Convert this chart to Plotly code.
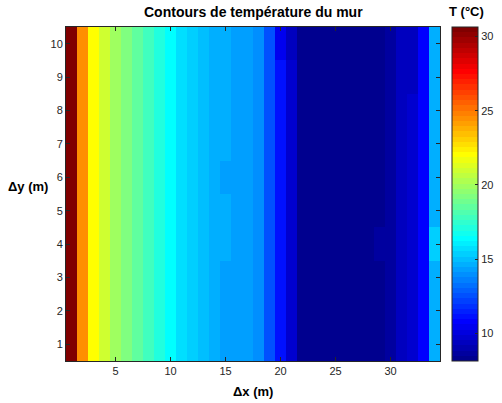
import plotly.graph_objects as go

# ---- data ----
x_pos = list(range(1, 35))          # Δx (m)
y_pos = list(range(1, 11))          # Δy (m)
base_profile = [30.6, 24.6, 22.05, 20.95, 19.95, 19.25, 18.55, 17.85, 17.1, 16.4,
                15.6, 15.3, 15.0, 14.75, 14.6, 14.25, 14.2, 13.9, 12.5, 11.1,
                9.7, 8.3, 8.15, 8.13, 8.13, 8.14, 8.15, 8.45, 8.45, 8.8,
                9.2, 9.65, 10.85, 14.75]
# (row y, column x, value) cells that differ from the column profile
deviations = [
    (1, 15, 14.2), (2, 15, 14.2), (3, 15, 14.2), (6, 15, 14.2),
    (10, 20, 10.25), (10, 21, 9.25), (4, 21, 9.85),
    (9, 22, 8.15), (10, 22, 8.15),
    (4, 27, 8.4), (4, 29, 8.7),
    (9, 32, 9.4), (10, 32, 9.4),
    (4, 34, 15.2),
]
t_min, t_max = 8.13, 30.65
cbar_ticks = [10, 15, 20, 25, 30]
x_ticks = [5, 10, 15, 20, 25, 30]

z = [list(base_profile) for _ in y_pos]
for yy, xx, v in deviations:
    z[yy - 1][xx - 1] = v

# ---- MATLAB jet(64) discrete colorscale ----
n, m = 64, 16
u = [i / m for i in range(1, m + 1)] + [1.0] * (m - 1) + [i / m for i in range(m, 0, -1)]
def chan(k, off):
    j = k + off
    return u[j - 1] if 1 <= j <= len(u) else 0.0
cols = []
for k in range(1, n + 1):
    r = chan(k, -24); g = chan(k, -8); b = chan(k, 8)
    cols.append("rgb(%d,%d,%d)" % (round(r * 255), round(g * 255), round(b * 255)))
cscale = []
for k, c in enumerate(cols):
    cscale.append([k / n, c])
    cscale.append([(k + 1) / n, c])

W, H = 502, 403
L, R, T, B = 66, 62, 27, 42
font = "Liberation Sans, Arial, sans-serif"
tick_col = "#262626"
pw, ph = W - L - R, H - T - B
def px_x(px): return (px - L) / pw
def px_y(py): return (H - B - py) / ph

fig = go.Figure(go.Heatmap(
    x=x_pos, y=y_pos, z=z, zmin=t_min, zmax=t_max, colorscale=cscale,
    colorbar=dict(
        x=px_x(452), xanchor="left", y=0.5, yanchor="middle",
        len=1, lenmode="fraction", thickness=26, thicknessmode="pixels",
        outlinecolor=tick_col, outlinewidth=1,
        tickvals=cbar_ticks, ticks="inside", ticklen=3, tickcolor=tick_col,
        tickfont=dict(family=font, size=11, color=tick_col),
        xpad=0, ypad=0,
    ),
))

fig.update_layout(
    width=W, height=H, margin=dict(l=L, r=R, t=T, b=B, autoexpand=False),
    paper_bgcolor="white", plot_bgcolor="white",
    font=dict(family=font, size=11, color=tick_col),
    xaxis=dict(range=[0.5, 34.5], tickvals=x_ticks, ticks="inside", ticklen=4,
               tickcolor=tick_col, showline=True, linecolor=tick_col, linewidth=1,
               mirror="allticks", showgrid=False, zeroline=False,
               tickfont=dict(family=font, size=11, color=tick_col)),
    yaxis=dict(range=[0.5, 10.5], tickvals=y_pos, ticks="inside", ticklen=4,
               tickcolor=tick_col, showline=True, linecolor=tick_col, linewidth=1,
               mirror="allticks", showgrid=False, zeroline=False,
               tickfont=dict(family=font, size=11, color=tick_col)),
    annotations=[
        dict(text="<b>Contours de température du mur</b>", x=px_x(253), y=px_y(12),
             xref="paper", yref="paper", xanchor="center", yanchor="middle",
             showarrow=False, font=dict(family=font, size=14, color="#000")),
        dict(text="<b>T (°C)</b>", x=px_x(466), y=px_y(11),
             xref="paper", yref="paper", xanchor="center", yanchor="middle",
             showarrow=False, font=dict(family=font, size=13, color="#000")),
        dict(text="<b>Δx (m)</b>", x=px_x(253), y=px_y(391),
             xref="paper", yref="paper", xanchor="center", yanchor="middle",
             showarrow=False, font=dict(family=font, size=13, color="#000")),
        dict(text="<b>Δy (m)</b>", x=px_x(28), y=px_y(186),
             xref="paper", yref="paper", xanchor="center", yanchor="middle",
             showarrow=False, font=dict(family=font, size=13, color="#000")),
    ],
)

fig.write_html("out.html")
